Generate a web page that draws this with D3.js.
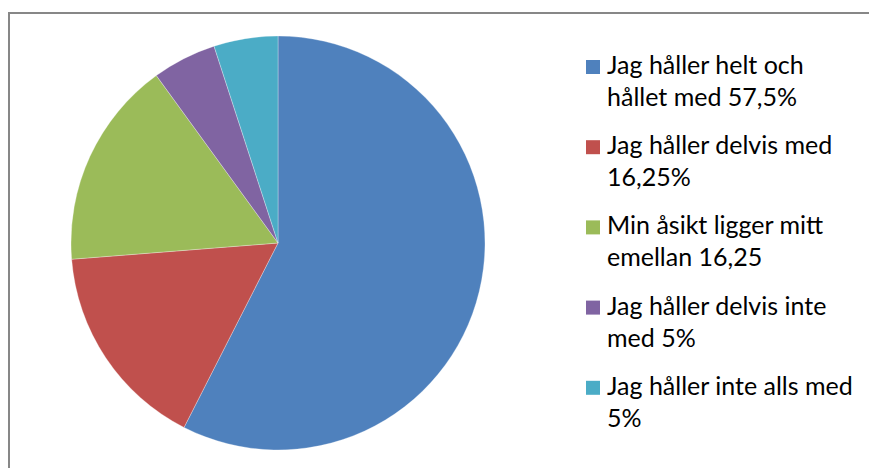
<!DOCTYPE html>
<html>
<head>
<meta charset="utf-8">
<script src="https://cdn.jsdelivr.net/npm/d3@7"></script>
<style>
  body { margin: 0; background: #fff; }
  .legendText { font-family: Lato, "Open Sans", sans-serif; font-size: 25px; fill: #000; }
</style>
</head>
<body>
<div id="container"></div>
<script>
const width = 869;
const height = 468;

const categories = [
    ["Jag håller helt och", "hållet med 57,5%"],
    ["Jag håller delvis med", "16,25%"],
    ["Min åsikt ligger mitt", "emellan 16,25"],
    ["Jag håller delvis inte", "med 5%"],
    ["Jag håller inte alls med", "5%"]
];
const values = [57.5, 16.25, 16.25, 5, 5];
const colors = ["#4F81BD", "#C0504D", "#9BBB59", "#8064A2", "#4BACC6"];

let svg = d3.select("#container").append("svg")
    .attr("width", width)
    .attr("height", height)
    .attr("viewBox", `0 0 ${width} ${height}`);

svg.append("rect")
    .attr("x", 9)
    .attr("y", 13)
    .attr("width", width)
    .attr("height", height)
    .attr("fill", "none")
    .attr("stroke", "#878787")
    .attr("stroke-width", 2);

let color = d3.scaleOrdinal().domain(d3.range(values.length)).range(colors);

let pie = d3.pie().sort(null).value(d => d);
let arc = d3.arc().innerRadius(0).outerRadius(207);

let g = svg.append("g")
    .attr("transform", "translate(278,243)");

g.selectAll("path")
    .data(pie(values))
    .join("path")
    .attr("d", arc)
    .attr("fill", (d, i) => color(i))
    .attr("stroke", "rgba(255,255,255,0.5)")
    .attr("stroke-width", 0.6);

// legend
let legend = svg.append("g")
    .selectAll("g")
    .data(categories)
    .join("g")
    .attr("transform", (d, i) => "translate(586," + (74 + i * 80.2) + ")");

legend.append("rect")
    .attr("x", 0)
    .attr("y", -14)
    .attr("width", 14)
    .attr("height", 14)
    .attr("fill", (d, i) => color(i));

let text = legend.append("text")
    .attr("class", "legendText")
    .attr("x", 21)
    .attr("y", 0);

text.append("tspan")
    .text(d => d[0]);

text.append("tspan")
    .text(d => d[1])
    .attr("x", 21)
    .attr("dy", 32);
</script>
</body>
</html>
